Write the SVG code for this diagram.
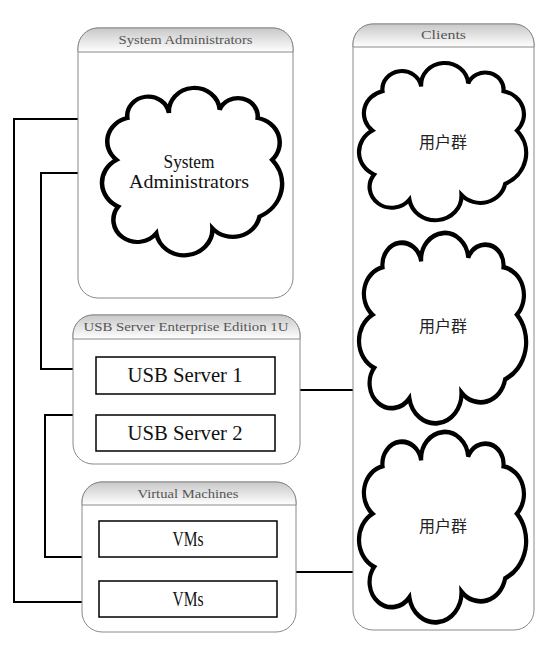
<svg xmlns="http://www.w3.org/2000/svg" width="550" height="657" viewBox="0 0 550 657">
<defs>
<linearGradient id="hg" x1="0" y1="0" x2="0" y2="1">
<stop offset="0" stop-color="#c8c8c8"/>
<stop offset="1" stop-color="#ffffff"/>
</linearGradient>
<path id="cloud" d="M14,18 A11.6,11.6 0 0 1 37,15 A14,14 0 0 1 65,13 A10.9,10.9 0 0 1 86,18 A14.9,14.9 0 0 1 94,43 A21.6,21.6 0 0 1 87,77 A15,15 0 0 1 61,84 A15.6,15.6 0 0 1 30,87 A13.2,13.2 0 0 1 9,71 A15.8,15.8 0 0 1 8,43 A14.4,14.4 0 0 1 14,18 Z"/>
</defs>
<style>
.cont{fill:#fff;stroke:#8a8a8a;stroke-width:1}
.hdr{fill:url(#hg);stroke:#8a8a8a;stroke-width:1}
.htxt{font-family:"Liberation Serif",serif;font-size:12px;fill:#555;text-anchor:middle}
.box{fill:#fff;stroke:#000;stroke-width:1.5}
.btxt{font-family:"Liberation Serif",serif;font-size:20px;fill:#111;text-anchor:middle}
.ctxt{font-family:"Liberation Serif",serif;font-size:18px;fill:#111;text-anchor:middle}
.zh{font-family:"Noto Sans CJK SC",sans-serif;font-size:16px;fill:#222;text-anchor:middle}
.cl{fill:#fff;stroke:#000;stroke-width:2.5;vector-effect:non-scaling-stroke}
.conn{fill:none;stroke:#000;stroke-width:2}
</style>
<g id="connectors">
<path class="conn" d="M78,119 H14 V602 H82"/>
<path class="conn" d="M78,173 H41 V369 H73"/>
<path class="conn" d="M73,415 H45 V557 H82"/>
<path class="conn" d="M300,390 H353"/>
<path class="conn" d="M292,572 H353"/>
</g>
<g id="sysadmin">
<rect class="cont" x="78" y="28" width="215" height="270" rx="20"/>
<path class="hdr" d="M78,52 V48 A20,20 0 0 1 98,28 H273 A20,20 0 0 1 293,48 V52 Z"/>
<text class="htxt" x="185.5" y="44" textLength="134" lengthAdjust="spacingAndGlyphs">System Administrators</text>
<g id="sysadmin-cloud">
<use href="#cloud" class="cl" transform="translate(102,88) scale(1.81,1.67)"/>
<text class="ctxt" x="189" y="168" textLength="51" lengthAdjust="spacingAndGlyphs">System</text>
<text class="ctxt" x="189" y="188" textLength="120" lengthAdjust="spacingAndGlyphs">Administrators</text>
</g>
</g>
<g id="clients">
<rect class="cont" x="353" y="24" width="181" height="606" rx="20"/>
<path class="hdr" d="M353,47 V44 A20,20 0 0 1 373,24 H514 A20,20 0 0 1 534,44 V47 Z"/>
<text class="htxt" x="443.5" y="39" textLength="45" lengthAdjust="spacingAndGlyphs">Clients</text>
</g>
<g id="users1">
<use href="#cloud" class="cl" transform="translate(359,63) scale(1.68,1.57)"/>
<text class="zh" x="443" y="148">用户群</text>
</g>
<g id="users2">
<use href="#cloud" class="cl" transform="translate(359,233) scale(1.68,1.90)"/>
<text class="zh" x="443" y="332">用户群</text>
</g>
<g id="users3">
<use href="#cloud" class="cl" transform="translate(359,432) scale(1.68,1.90)"/>
<text class="zh" x="443" y="532">用户群</text>
</g>
<g id="usbserver">
<rect class="cont" x="73" y="315" width="227" height="149" rx="20"/>
<path class="hdr" d="M73,339 V335 A20,20 0 0 1 93,315 H280 A20,20 0 0 1 300,335 V339 Z"/>
<text class="htxt" x="186" y="331" textLength="205" lengthAdjust="spacingAndGlyphs">USB Server Enterprise Edition 1U</text>
</g>
<g id="usb1">
<rect class="box" x="96" y="357" width="179" height="37"/>
<text class="btxt" x="185" y="382" textLength="115" lengthAdjust="spacingAndGlyphs">USB Server 1</text>
</g>
<g id="usb2">
<rect class="box" x="96" y="415" width="179" height="36"/>
<text class="btxt" x="185" y="440" textLength="115" lengthAdjust="spacingAndGlyphs">USB Server 2</text>
</g>
<g id="vmgroup">
<rect class="cont" x="82" y="482" width="214" height="150" rx="20"/>
<path class="hdr" d="M82,505 V502 A20,20 0 0 1 102,482 H276 A20,20 0 0 1 296,502 V505 Z"/>
<text class="htxt" x="188" y="498" textLength="101" lengthAdjust="spacingAndGlyphs">Virtual Machines</text>
</g>
<g id="vm1">
<rect class="box" x="99" y="521" width="178" height="36"/>
<text class="btxt" x="188" y="546" textLength="31" lengthAdjust="spacingAndGlyphs">VMs</text>
</g>
<g id="vm2">
<rect class="box" x="99" y="581" width="178" height="36"/>
<text class="btxt" x="188" y="606" textLength="31" lengthAdjust="spacingAndGlyphs">VMs</text>
</g>
</svg>
